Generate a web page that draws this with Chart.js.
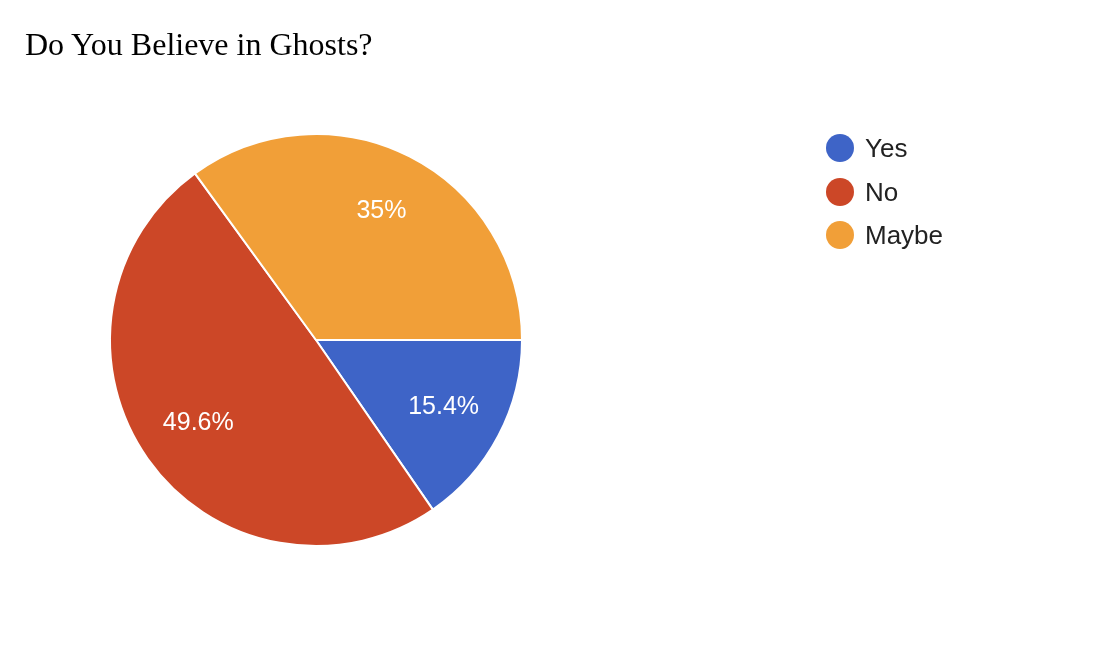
<!DOCTYPE html>
<html>
<head>
<meta charset="utf-8">
<script src="https://cdn.jsdelivr.net/npm/chart.js@4"></script>
<style>
    body { margin: 0; background: #fff; }
    #wrap { position: relative; width: 1112px; height: 658px; }
    #title {
        position: absolute; left: 25px; top: 26px;
        font-family: "Liberation Serif", "Times New Roman", serif;
        font-size: 32px; color: #000; white-space: nowrap;
    }
    #legend { position: absolute; left: 826px; top: 133px; }
    .item { height: 43.5px; display: flex; align-items: flex-start; }
    .dot { width: 28px; height: 28px; border-radius: 50%; margin-top: 1px; }
    .lbl {
        margin-left: 11px; font-family: "Liberation Sans", Arial, sans-serif;
        font-size: 26px; line-height: 30px; color: #222;
    }
</style>
</head>
<body>
<div id="wrap">
    <div id="title">Do You Believe in Ghosts?</div>
    <canvas id="graphCanvas" width="1112" height="658"></canvas>
    <div id="legend"></div>
</div>
<script>
var answers = ['Yes', 'No', 'Maybe'];
var percents = [15.4, 49.6, 35];
var labels_text = ['15.4%', '49.6%', '35%'];
var colors = ['#3e64c7', '#cc4727', '#f19f38'];

// legend
var legendDiv = document.getElementById('legend');
for (var i in answers) {
    var item = document.createElement('div');
    item.className = 'item';
    item.innerHTML = '<div class="dot" style="background:' + colors[i] + '"></div>' +
        '<div class="lbl">' + answers[i] + '</div>';
    legendDiv.appendChild(item);
}

// slice labels
var sliceLabels = {
    id: 'sliceLabels',
    afterDatasetsDraw: function(chart) {
        var ctx = chart.ctx;
        var meta = chart.getDatasetMeta(0);
        ctx.save();
        ctx.fillStyle = '#fff';
        ctx.font = '25px "Liberation Sans", Arial, sans-serif';
        ctx.textAlign = 'center';
        ctx.textBaseline = 'middle';
        meta.data.forEach(function(arc, i) {
            var p = arc.getProps(['x', 'y', 'startAngle', 'endAngle', 'outerRadius']);
            var mid = (p.startAngle + p.endAngle) / 2;
            var r = p.outerRadius * 0.7;
            ctx.fillText(labels_text[i], p.x + Math.cos(mid) * r, p.y + Math.sin(mid) * r);
        });
        ctx.restore();
    }
};

var pieChart = new Chart(document.getElementById('graphCanvas'), {
    type: 'pie',
    data: {
        labels: answers,
        datasets: [{
            data: percents,
            backgroundColor: colors,
            borderColor: '#fff',
            borderWidth: 2
        }]
    },
    options: {
        responsive: false,
        animation: false,
        rotation: 90,
        layout: {
            padding: { top: 133, bottom: 111, left: 109, right: 589 }
        },
        plugins: {
            legend: { display: false },
            tooltip: { enabled: false }
        }
    },
    plugins: [sliceLabels]
});
</script>
</body>
</html>
